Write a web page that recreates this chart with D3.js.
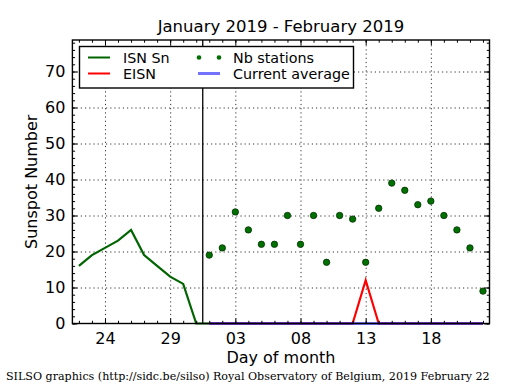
<!DOCTYPE html>
<html>
<head>
<meta charset="utf-8">
<script src="https://cdn.jsdelivr.net/npm/d3@7"></script>
<style>
  body { margin: 0; background: #fff; }
  svg { display: block; }
  text { fill: #000; }
</style>
</head>
<body>
<script>
const width = 515;
const height = 390;

// ISN Sn daily values (end of January)
const isnDates = ["2019-01-22","2019-01-23","2019-01-24","2019-01-25","2019-01-26","2019-01-27",
                  "2019-01-28","2019-01-29","2019-01-30","2019-01-31","2019-02-01"];
const isnValues = [16, 19, 21, 23, 26, 19, 16, 13, 11, 0, 0];

// February days (provisional)
const febDates = d3.range(1, 23).map(d => "2019-02-" + String(d).padStart(2, "0"));
const eisnValues = [0,0,0,0,0,0,0,0,0,0,0,0,12,0,0,0,0,0,0,0,0,0];
const stationCounts = [19,21,31,26,22,22,30,22,30,17,30,29,17,32,39,37,33,34,30,26,21,9];
const currentAverage = [0,0,0,0,0,0,0,0,0,0,0,0,0,0,0,0,0,0,0,0,0,0];

const xTickDates = ["2019-01-24","2019-01-29","2019-02-03","2019-02-08","2019-02-13","2019-02-18"];
const yTicks = [0, 10, 20, 30, 40, 50, 60, 70];
const monthSplit = "2019-01-31T12:00:00Z";

const parse = s => new Date(s.length > 10 ? s : s + "T00:00:00Z");

const plot = {left: 72.4, right: 489.5, top: 40, bottom: 323.5};

const x = d3.scaleUtc()
    .domain([parse("2019-01-21T12:00:00Z"), parse("2019-02-22T12:00:00Z")])
    .range([plot.left, plot.right]);
const y = d3.scaleLinear()
    .domain([0, 78.75])
    .range([plot.bottom, plot.top]);

const svg = d3.select("body").append("svg")
    .attr("width", width)
    .attr("height", height)
    .style("font-family", "DejaVu Sans, sans-serif");

const pw = plot.right - plot.left, ph = plot.bottom - plot.top;
const allDays = d3.utcDay.range(parse("2019-01-22"), parse("2019-02-23"));
const yMinor = d3.range(0, 79, 2);

// grid
svg.append("g")
    .attr("transform", `translate(0,${plot.bottom})`)
    .call(d3.axisBottom(x).tickValues(xTickDates.map(parse)).tickSize(-ph).tickFormat(""))
    .call(g => g.select(".domain").remove())
    .call(g => g.selectAll("line").attr("stroke", "#000").attr("stroke-width", 0.8).attr("stroke-dasharray", "1.2,3"));
svg.append("g")
    .attr("transform", `translate(${plot.left},0)`)
    .call(d3.axisLeft(y).tickValues(yTicks.slice(1)).tickSize(-pw).tickFormat(""))
    .call(g => g.select(".domain").remove())
    .call(g => g.selectAll("line").attr("stroke", "#000").attr("stroke-width", 0.8).attr("stroke-dasharray", "1.2,3"));

// month separator
svg.append("line")
    .attr("x1", x(parse(monthSplit))).attr("x2", x(parse(monthSplit)))
    .attr("y1", plot.top).attr("y2", plot.bottom)
    .attr("stroke", "#000").attr("stroke-width", 1.3);

// ISN line
svg.append("path")
    .datum(isnDates.map((d, i) => [parse(d), isnValues[i]]))
    .attr("fill", "none").attr("stroke", "#006400").attr("stroke-width", 2.2)
    .attr("d", d3.line().x(d => x(d[0])).y(d => y(d[1])));

// EISN line
svg.append("path")
    .datum(febDates.map((d, i) => [parse(d), eisnValues[i]]))
    .attr("fill", "none").attr("stroke", "#ff0000").attr("stroke-width", 2.2)
    .attr("d", d3.line().x(d => x(d[0])).y(d => y(d[1])));

// current average
svg.append("path")
    .datum(febDates.map((d, i) => [parse(d), currentAverage[i]]))
    .attr("fill", "none").attr("stroke", "#0000ff").attr("stroke-opacity", 0.55).attr("stroke-width", 3)
    .attr("d", d3.line().x(d => x(d[0])).y(d => y(d[1])));

// stations
svg.append("g").selectAll("circle")
    .data(febDates.map((d, i) => [parse(d), stationCounts[i]]))
    .join("circle")
    .attr("cx", d => x(d[0])).attr("cy", d => y(d[1]))
    .attr("r", 3.2)
    .attr("fill", "#007000").attr("stroke", "#003000").attr("stroke-width", 0.8);

// ticks on all four sides, pointing inward
function styleTicks(g) {
  g.select(".domain").remove();
  g.selectAll("line").attr("stroke", "#000").attr("stroke-width", 1);
}
const bottomMajor = d3.axisBottom(x).tickValues(xTickDates.map(parse)).tickSizeInner(-5).tickPadding(9)
    .tickFormat(d3.utcFormat("%d"));
svg.append("g").attr("transform", `translate(0,${plot.bottom})`).call(bottomMajor).call(styleTicks)
    .call(g => g.selectAll("text").attr("font-size", 16).style("font-family", "DejaVu Sans"));
svg.append("g").attr("transform", `translate(0,${plot.bottom})`)
    .call(d3.axisBottom(x).tickValues(allDays).tickSize(-2.7).tickFormat("")).call(styleTicks);
svg.append("g").attr("transform", `translate(0,${plot.top})`)
    .call(d3.axisTop(x).tickValues(xTickDates.map(parse)).tickSize(-5).tickFormat("")).call(styleTicks);
svg.append("g").attr("transform", `translate(0,${plot.top})`)
    .call(d3.axisTop(x).tickValues(allDays).tickSize(-2.7).tickFormat("")).call(styleTicks);

svg.append("g").attr("transform", `translate(${plot.left},0)`)
    .call(d3.axisLeft(y).tickValues(yTicks).tickSizeInner(-5).tickPadding(7)).call(styleTicks)
    .call(g => g.selectAll("text").attr("font-size", 16).style("font-family", "DejaVu Sans"));
svg.append("g").attr("transform", `translate(${plot.left},0)`)
    .call(d3.axisLeft(y).tickValues(yMinor).tickSize(-2.7).tickFormat("")).call(styleTicks);
svg.append("g").attr("transform", `translate(${plot.right},0)`)
    .call(d3.axisRight(y).tickValues(yTicks).tickSize(-5).tickFormat("")).call(styleTicks);
svg.append("g").attr("transform", `translate(${plot.right},0)`)
    .call(d3.axisRight(y).tickValues(yMinor).tickSize(-2.7).tickFormat("")).call(styleTicks);

// frame
svg.append("rect")
    .attr("x", plot.left).attr("y", plot.top).attr("width", pw).attr("height", ph)
    .attr("fill", "none").attr("stroke", "#000").attr("stroke-width", 1.4);

// legend
const legend = svg.append("g");
legend.append("rect")
    .attr("x", 79.5).attr("y", 46.5).attr("width", 274).attr("height", 41.5)
    .attr("fill", "#fff").attr("stroke", "#000").attr("stroke-width", 1.4);
const legendRows = [
  {x: 88, y: 57.5, label: "ISN Sn", kind: "line", color: "#006400", w: 2},
  {x: 88, y: 73.5, label: "EISN", kind: "line", color: "#ff0000", w: 2},
  {x: 198, y: 57.5, label: "Nb stations", kind: "dots"},
  {x: 198, y: 73.5, label: "Current average", kind: "line", color: "#0000ff", w: 3, op: 0.55}
];
legendRows.forEach(r => {
  if (r.kind === "line") {
    legend.append("line")
        .attr("x1", r.x).attr("x2", r.x + 22).attr("y1", r.y).attr("y2", r.y)
        .attr("stroke", r.color).attr("stroke-width", r.w).attr("stroke-opacity", r.op || 1);
  } else {
    [r.x + 1, r.x + 21].forEach(cx => legend.append("circle")
        .attr("cx", cx).attr("cy", r.y).attr("r", 2.3).attr("fill", "#007000"));
  }
  legend.append("text")
      .attr("x", r.x + 35).attr("y", r.y + 5.5)
      .attr("font-size", 14.3)
      .text(r.label);
});

// titles
svg.append("text")
    .attr("x", (plot.left + plot.right) / 2).attr("y", 32)
    .attr("text-anchor", "middle").attr("font-size", 16.5)
    .text("January 2019 - February 2019");
svg.append("text")
    .attr("x", (plot.left + plot.right) / 2).attr("y", 363)
    .attr("text-anchor", "middle").attr("font-size", 16)
    .text("Day of month");
svg.append("text")
    .attr("transform", `translate(37,${(plot.top + plot.bottom) / 2}) rotate(-90)`)
    .attr("text-anchor", "middle").attr("font-size", 16)
    .text("Sunspot Number");
svg.append("text")
    .attr("x", 6).attr("y", 380)
    .style("font-family", "DejaVu Serif, serif").attr("font-size", 11.1)
    .text("SILSO graphics (http://sidc.be/silso) Royal Observatory of Belgium, 2019 February 22");
</script>
</body>
</html>
